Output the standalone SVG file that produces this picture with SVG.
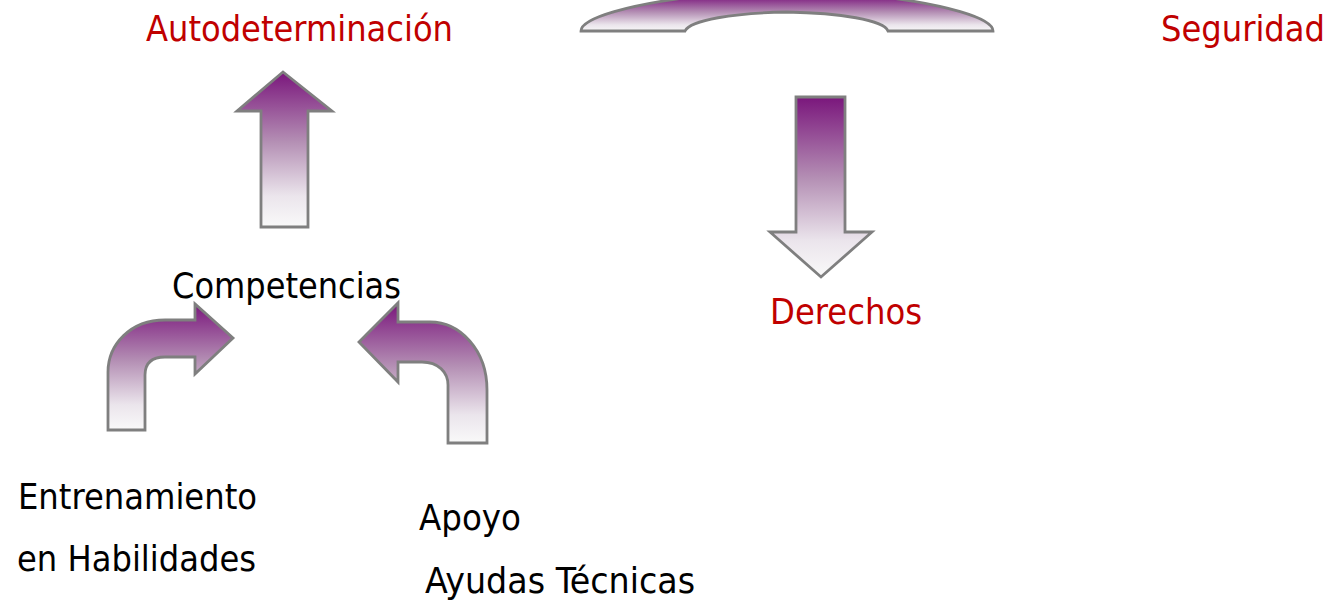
<svg xmlns="http://www.w3.org/2000/svg" width="1333" height="606" viewBox="0 0 1333 606">
<defs>
<linearGradient id="g" x1="0" y1="0" x2="0" y2="1">
<stop offset="0" stop-color="#7a167c"/>
<stop offset="0.45" stop-color="#b48fb4"/>
<stop offset="0.8" stop-color="#ebe5ec"/>
<stop offset="1" stop-color="#f9f9f9"/>
</linearGradient>
<linearGradient id="gt" gradientUnits="userSpaceOnUse" x1="0" y1="-4" x2="0" y2="32">
<stop offset="0" stop-color="#7a167c"/>
<stop offset="0.45" stop-color="#b48fb4"/>
<stop offset="0.8" stop-color="#ebe5ec"/>
<stop offset="1" stop-color="#f9f9f9"/>
</linearGradient>
<style>
.sh{stroke:#7f7f7f;stroke-width:2.8;stroke-linejoin:miter}
.t{font-family:"DejaVu Sans Condensed","DejaVu Sans",sans-serif;font-stretch:condensed;font-size:35px}
.r{fill:#c00000}
.k{fill:#000}
</style>
</defs>
<g id="connectors">
<path id="top-curve" class="sh" fill="url(#gt)" d="M581,31 C581,18 630,4 700,-4 L875,-4 C945,4 993,18 993,31 L888,31 C884,20 840,13 787,12 C734,13 690,20 685,31 Z"/>
<path id="arrow-up" class="sh" fill="url(#g)" d="M283,72 L332,111 L308,111 L308,227 L261,227 L261,111 L237,111 Z"/>
<path id="arrow-down" class="sh" fill="url(#g)" d="M796,97 L845,97 L845,232 L872,232 L821,277 L770,232 L796,232 Z"/>
<path id="arrow-left-curved" class="sh" fill="url(#g)" d="M108,430 L108,372 C108,345 130,320 165,320 L195,320 L195,304 L233,338 L195,374 L195,357 L165,357 C152,357 145,363 145,375 L145,430 Z"/>
<path id="arrow-right-curved" class="sh" fill="url(#g)" d="M487,443 L487,390 C487,350 460,322 430,322 L398,322 L398,303 L359,342 L398,382 L398,362 L422,362 C438,362 448,372 448,385 L448,443 Z"/>
</g>
<g id="autodeterminacion"><text class="t r" x="146" y="41" textLength="307" lengthAdjust="spacingAndGlyphs">Autodeterminación</text></g>
<g id="seguridad"><text class="t r" x="1161" y="41" textLength="164" lengthAdjust="spacingAndGlyphs">Seguridad</text></g>
<g id="competencias"><text class="t k" x="172" y="298" textLength="229" lengthAdjust="spacingAndGlyphs">Competencias</text></g>
<g id="derechos"><text class="t r" x="770" y="324" textLength="152" lengthAdjust="spacingAndGlyphs">Derechos</text></g>
<g id="entrenamiento"><text class="t k" x="18" y="509" textLength="239" lengthAdjust="spacingAndGlyphs">Entrenamiento</text>
<text class="t k" x="17" y="571" textLength="239" lengthAdjust="spacingAndGlyphs">en Habilidades</text></g>
<g id="apoyo"><text class="t k" x="419" y="530" textLength="102" lengthAdjust="spacingAndGlyphs">Apoyo</text>
<text class="t k" x="425" y="593" textLength="270" lengthAdjust="spacingAndGlyphs">Ayudas Técnicas</text></g>
</svg>
